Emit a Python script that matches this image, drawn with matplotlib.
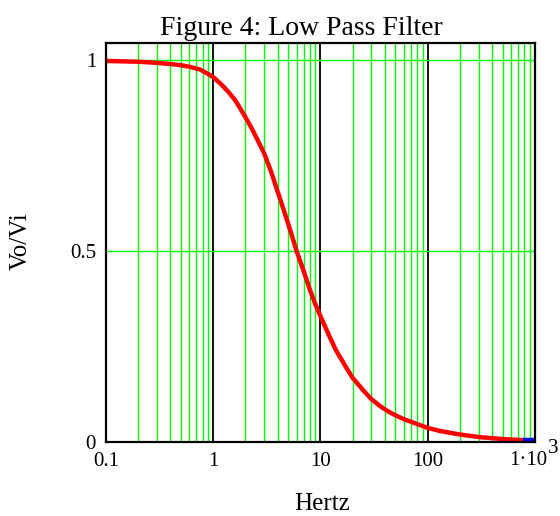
import matplotlib
matplotlib.use("Agg")
import matplotlib.pyplot as plt
from matplotlib.ticker import FixedLocator, NullFormatter

plt.rcParams['font.family'] = ['Liberation Serif', 'DejaVu Serif']

# values
freq = [0.1, 0.2, 0.3, 0.4, 0.5, 0.6, 0.75, 0.9, 1.0, 1.2, 1.4, 1.6, 1.8, 2.0,
        2.3, 2.6, 3.0, 3.5, 4.0, 4.5, 5.0, 5.5, 6.0, 7.0, 8.0, 9.0, 10, 12, 14,
        17, 20, 25, 30, 36, 43, 50, 60, 70, 80, 100, 130, 170, 220, 300, 400,
        550, 780]
gain = [0.997, 0.995, 0.992, 0.989, 0.986, 0.982, 0.975, 0.963, 0.955, 0.935,
        0.915, 0.895, 0.872, 0.85, 0.82, 0.79, 0.755, 0.705, 0.655, 0.612,
        0.572, 0.535, 0.5, 0.447, 0.398, 0.36, 0.33, 0.28, 0.24, 0.2, 0.168,
        0.136, 0.112, 0.094, 0.08, 0.07, 0.06, 0.053, 0.047, 0.037, 0.029,
        0.023, 0.018, 0.013, 0.01, 0.007, 0.005]
blue_freq = [780, 1000]
blue_gain = [0.004, 0.004]

xticks = [0.1, 1, 10, 100, 1000]
xlabels = ['0.1', '1', '10', '100', '']
yticks = [0, 0.5, 1]
ylabels = ['0', '0.5', '1']

fig = plt.figure(figsize=(5.6, 5.16), dpi=100)
ax = fig.add_axes([0.189, 0.1434, 0.766, 0.774])

ax.set_xscale('log')
ax.set_xlim(0.1, 1000)
ax.set_ylim(0, 1.045)

# grid: green minors, black decades, green horizontals
minors = [m * 10.0 ** e for e in range(-1, 3) for m in range(2, 10)]
for f in minors:
    ax.axvline(f, color='#00ff00', lw=1.0, zorder=1)
for f in xticks[1:-1]:
    ax.axvline(f, color='black', lw=1.3, zorder=1)
for v in [0.5, 1.0]:
    ax.axhline(v, color='#00ff00', lw=1.0, zorder=1)

ax.plot(freq, gain, color='red', lw=3.2, solid_capstyle='butt', zorder=3)
ax.plot(blue_freq, blue_gain, color='blue', lw=3.2, solid_capstyle='butt', zorder=3)

ax.xaxis.set_major_locator(FixedLocator(xticks))
ax.xaxis.set_minor_locator(FixedLocator([]))
ax.xaxis.set_minor_formatter(NullFormatter())
ax.set_xticklabels(xlabels)
ax.set_yticks(yticks)
ax.set_yticklabels(ylabels)
ax.tick_params(axis='both', length=0, labelsize=15)
ax.tick_params(axis='x', pad=7)
ax.tick_params(axis='y', pad=7)

# last tick label "1·10" with its exponent, Mathcad style
ax.annotate('1·10', xy=(1000, 0), xycoords=('data', 'axes fraction'),
            xytext=(9, -13), textcoords='offset points', fontsize=15,
            ha='right', va='center', annotation_clip=False)
ax.annotate('3', xy=(1000, 0), xycoords=('data', 'axes fraction'),
            xytext=(13.5, -5), textcoords='offset points', fontsize=15,
            ha='center', va='center', annotation_clip=False)

for s in ax.spines.values():
    s.set_linewidth(1.6)
    s.set_color('black')
    s.set_zorder(4)

fig.text(0.5375, 0.932, 'Figure 4: Low Pass Filter', fontsize=20, ha='center', va='baseline')
fig.text(0.575, 0.012, 'Hertz', fontsize=18, ha='center', va='baseline')
fig.text(0.037, 0.533, 'Vo/Vi', fontsize=18, ha='center', va='center', rotation=90)

fig.savefig('out.png', dpi=100)
